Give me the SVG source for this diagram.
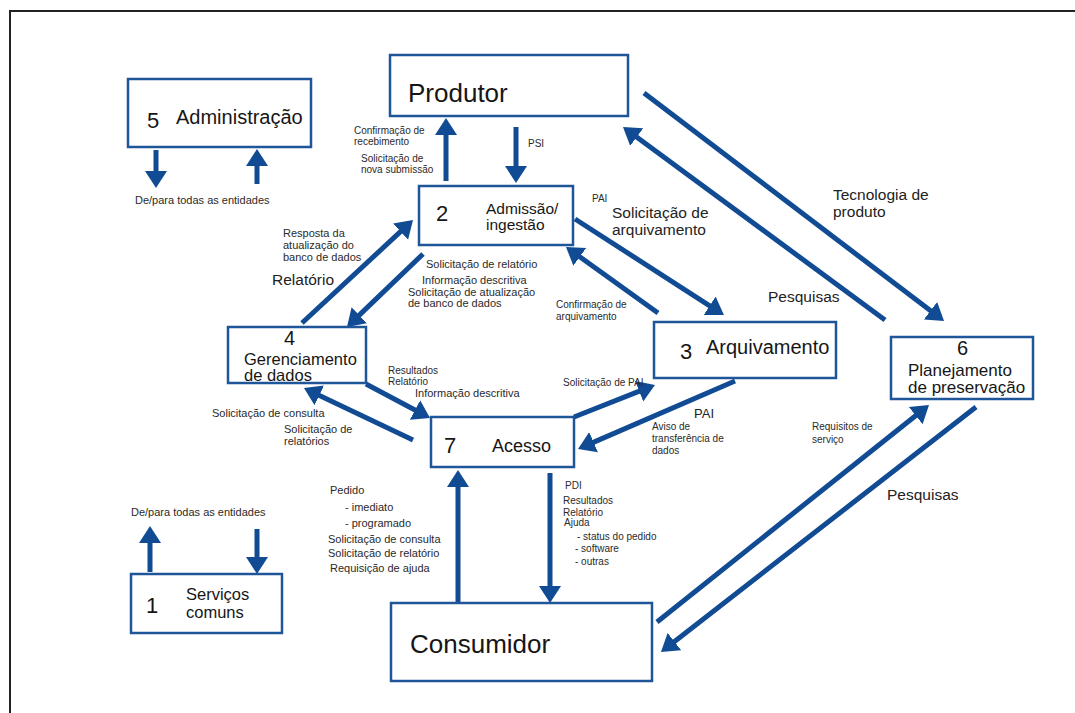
<svg xmlns="http://www.w3.org/2000/svg" width="1075" height="713" viewBox="0 0 1075 713">
  <defs>
    <style>
      text { font-family: "Liberation Sans", Arial, Helvetica, sans-serif; fill: #161616; }
      .box { fill: #ffffff; stroke: #1f5599; stroke-width: 2.5; }
      .arr { stroke: #104b93; stroke-width: 5; fill: none; marker-end: url(#ah); }
      .num { font-size: 22px; }
      .num2 { font-size: 20px; }
      .big { font-size: 26px; }
      .nm20 { font-size: 20px; }
      .nm18 { font-size: 18px; }
      .nm17 { font-size: 17px; }
      .nm16 { font-size: 16.5px; }
      .nm15 { font-size: 15.5px; }
      .lbl { font-size: 15.5px; fill: #222; }
      .sm { font-size: 11px; fill: #2a2a2a; }
      .xs { font-size: 10px; fill: #2a2a2a; }
    </style>
    <marker id="ah" markerUnits="userSpaceOnUse" viewBox="0 0 20 24" markerWidth="20" markerHeight="24" refX="1" refY="12" orient="auto">
      <path d="M0,1 L17,12 L0,23 Z" fill="#104b93"/>
    </marker>
  </defs>

  <rect width="1075" height="713" fill="#ffffff"/>
  <!-- page frame -->
  <path d="M10,713 V11 H1075" fill="none" stroke="#222" stroke-width="2"/>

  <!-- connectors -->
  <g id="connectors">
    <line class="arr" x1="156" y1="150" x2="156" y2="172"/>
    <line class="arr" x1="257" y1="184" x2="257" y2="165"/>
    <line class="arr" x1="446" y1="181" x2="446" y2="134"/>
    <line class="arr" x1="516" y1="127" x2="516" y2="167"/>
    <line class="arr" x1="644" y1="93" x2="931.3" y2="311.3"/>
    <line class="arr" x1="885" y1="320" x2="635.9" y2="136.5"/>
    <line class="arr" x1="575" y1="219" x2="710.5" y2="306.3"/>
    <line class="arr" x1="658" y1="313" x2="579" y2="256.3"/>
    <line class="arr" x1="302" y1="323" x2="401.3" y2="230.9"/>
    <line class="arr" x1="423" y1="254" x2="358.5" y2="315.9"/>
    <line class="arr" x1="366" y1="384" x2="415.9" y2="410.5"/>
    <line class="arr" x1="413" y1="440" x2="318.4" y2="394.9"/>
    <line class="arr" x1="574" y1="417" x2="640.1" y2="390.9"/>
    <line class="arr" x1="735" y1="381" x2="592.7" y2="442.6"/>
    <line class="arr" x1="458" y1="603" x2="458" y2="486"/>
    <line class="arr" x1="550" y1="473" x2="550" y2="587"/>
    <line class="arr" x1="657" y1="622" x2="916.5" y2="415"/>
    <line class="arr" x1="976" y1="407" x2="673.6" y2="642.2"/>
    <line class="arr" x1="150" y1="572" x2="150" y2="542"/>
    <line class="arr" x1="257" y1="529" x2="257" y2="558"/>
  </g>

  <!-- connector labels -->
  <g id="labels">
    <text class="sm" x="135" y="204">De/para todas as entidades</text>
    <text class="sm" x="131" y="516">De/para todas as entidades</text>

    <text class="xs" x="354" y="134">Confirmação de</text>
    <text class="xs" x="354" y="145">recebimento</text>
    <text class="xs" x="361" y="162">Solicitação de</text>
    <text class="xs" x="361" y="173">nova submissão</text>
    <text class="xs" x="528" y="147">PSI</text>

    <text class="lbl" x="833" y="200">Tecnologia de</text>
    <text class="lbl" x="833" y="217">produto</text>
    <text class="lbl" x="768" y="302">Pesquisas</text>

    <text class="xs" x="592" y="202">PAI</text>
    <text class="lbl" x="612" y="218">Solicitação de</text>
    <text class="lbl" x="612" y="235">arquivamento</text>
    <text class="xs" x="556" y="308">Confirmação de</text>
    <text class="xs" x="556" y="320">arquivamento</text>

    <text class="sm" x="283" y="237">Resposta da</text>
    <text class="sm" x="283" y="249">atualização do</text>
    <text class="sm" x="283" y="261">banco de dados</text>
    <text class="lbl" x="272" y="285">Relatório</text>

    <text class="sm" x="426" y="268">Solicitação de relatório</text>
    <text class="sm" x="422" y="284">Informação descritiva</text>
    <text class="sm" x="408" y="296">Solicitação de atualização</text>
    <text class="sm" x="408" y="307">de banco de dados</text>

    <text class="xs" x="388" y="374">Resultados</text>
    <text class="xs" x="388" y="385">Relatório</text>
    <text class="sm" x="415" y="397">Informação descritiva</text>

    <text class="sm" x="212" y="417">Solicitação de consulta</text>
    <text class="sm" x="284" y="433">Solicitação de</text>
    <text class="sm" x="284" y="445">relatórios</text>

    <text class="xs" x="563" y="386">Solicitação de PAI</text>
    <text class="lbl" x="694" y="418" style="font-size:13px">PAI</text>
    <text class="xs" x="652" y="430">Aviso de</text>
    <text class="xs" x="652" y="442">transferência de</text>
    <text class="xs" x="652" y="454">dados</text>

    <text class="sm" x="330" y="494">Pedido</text>
    <text class="sm" x="345" y="511">- imediato</text>
    <text class="sm" x="345" y="527">- programado</text>
    <text class="sm" x="328" y="543">Solicitação de consulta</text>
    <text class="sm" x="328" y="557">Solicitação de relatório</text>
    <text class="sm" x="330" y="572">Requisição de ajuda</text>

    <text class="xs" x="565" y="489">PDI</text>
    <text class="xs" x="563" y="504">Resultados</text>
    <text class="xs" x="563" y="516">Relatório</text>
    <text class="xs" x="564" y="526">Ajuda</text>
    <text class="xs" x="577" y="540">- status do pedido</text>
    <text class="xs" x="575" y="552">- software</text>
    <text class="xs" x="575" y="565">- outras</text>

    <text class="xs" x="812" y="430">Requisitos de</text>
    <text class="xs" x="812" y="443">serviço</text>
    <text class="lbl" x="887" y="500">Pesquisas</text>
  </g>

  <!-- nodes -->
  <g id="n5">
    <rect class="box" x="128" y="79" width="183" height="68"/>
    <text class="num" x="147" y="128">5</text>
    <text class="nm20" x="176" y="124">Administração</text>
  </g>
  <g id="produtor">
    <rect class="box" x="390" y="55" width="238" height="61"/>
    <text class="big" x="408" y="102">Produtor</text>
  </g>
  <g id="n2">
    <rect class="box" x="419" y="186" width="154" height="59"/>
    <text class="num" x="436" y="221">2</text>
    <text class="nm15" x="486" y="214">Admissão/</text>
    <text class="nm15" x="486" y="230">ingestão</text>
  </g>
  <g id="n4">
    <rect class="box" x="228" y="327" width="138" height="56"/>
    <text class="num2" x="284" y="345">4</text>
    <text class="nm16" x="244" y="365">Gerenciamento</text>
    <text class="nm16" x="244" y="381">de dados</text>
  </g>
  <g id="n3">
    <rect class="box" x="654" y="322" width="182" height="56"/>
    <text class="num" x="680" y="359">3</text>
    <text class="nm20" x="706" y="354">Arquivamento</text>
  </g>
  <g id="n6">
    <rect class="box" x="891" y="337" width="142" height="62"/>
    <text class="num2" x="957" y="355">6</text>
    <text class="nm17" x="908" y="376">Planejamento</text>
    <text class="nm17" x="908" y="393">de preservação</text>
  </g>
  <g id="n7">
    <rect class="box" x="431" y="417" width="143" height="50"/>
    <text class="num" x="444" y="453">7</text>
    <text class="nm18" x="492" y="452">Acesso</text>
  </g>
  <g id="n1">
    <rect class="box" x="131" y="574" width="151" height="59"/>
    <text class="num" x="146" y="613">1</text>
    <text class="nm16" x="186" y="600">Serviços</text>
    <text class="nm16" x="186" y="618">comuns</text>
  </g>
  <g id="consumidor">
    <rect class="box" x="391" y="603" width="261" height="78"/>
    <text class="big" x="410" y="653">Consumidor</text>
  </g>
</svg>
